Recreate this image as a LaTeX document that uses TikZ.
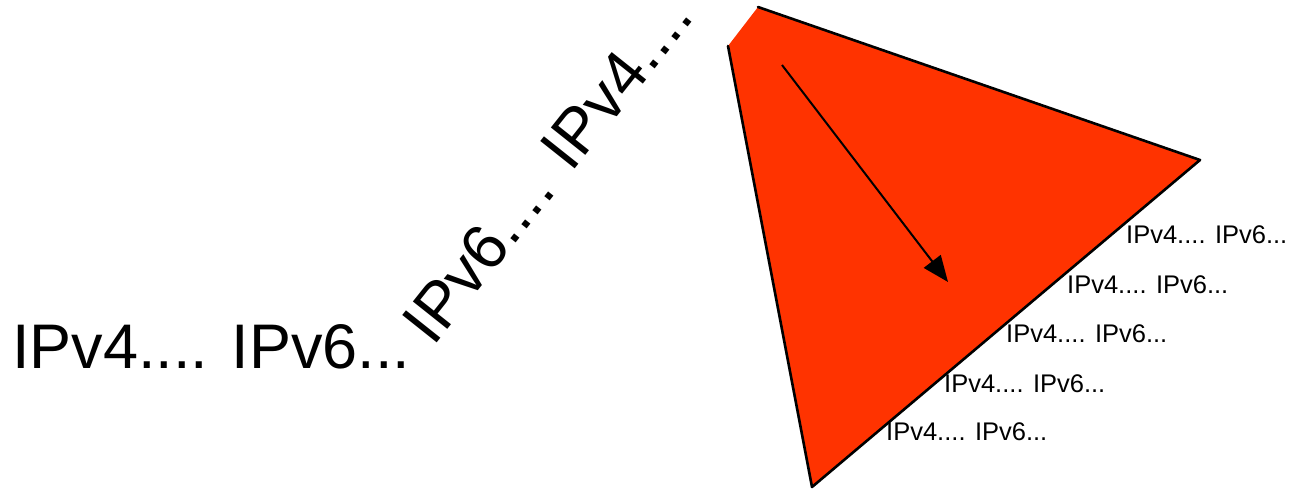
\documentclass[tikz,border=0pt]{standalone}
\usepackage{fontspec}
\setmainfont{Liberation Sans}
\usetikzlibrary{arrows.meta}
\definecolor{shapered}{RGB}{255,51,0}
\begin{document}
\begin{tikzpicture}[x=1pt,y=1pt,
  bigtxt/.style={inner sep=0pt,anchor=base west,font=\fontsize{63}{70}\selectfont},
  rottxt/.style={inner sep=0pt,anchor=base west,rotate=51.5,font=\fontsize{64}{70}\selectfont},
  smalltxt/.style={inner sep=0pt,anchor=base west,font=\fontsize{25.5}{30}\selectfont},
  edge/.style={line width=2.6pt,line join=round,line cap=round},
  arr/.style={line width=2pt,-{Triangle[length=26pt,width=21pt]}}]
\useasboundingbox (0,0) rectangle (1292,488);
\coordinate (top) at (758,481);
\coordinate (right) at (1200,328);
\coordinate (bottom) at (812,1);
\coordinate (left) at (728,442);
\fill[shapered] (top) -- (right) -- (bottom) -- (left) -- cycle;
\draw[edge] (top) -- (right) -- (bottom) -- (left);
\coordinate (as) at (782,423);
\coordinate (ae) at (948,206);
\draw[arr] (as) -- (ae);
\node[bigtxt] (big) at (12,120) {IPv4.... IPv6...};
\node[rottxt] (rot) at (433,140) {IPv6.... IPv4....};
\node[smalltxt] (s1) at (1126,245) {IPv4.... IPv6...};
\node[smalltxt] (s2) at (1067,195) {IPv4.... IPv6...};
\node[smalltxt] (s3) at (1006,146) {IPv4.... IPv6...};
\node[smalltxt] (s4) at (944,96) {IPv4.... IPv6...};
\node[smalltxt] (s5) at (886,48) {IPv4.... IPv6...};
\end{tikzpicture}
\end{document}
